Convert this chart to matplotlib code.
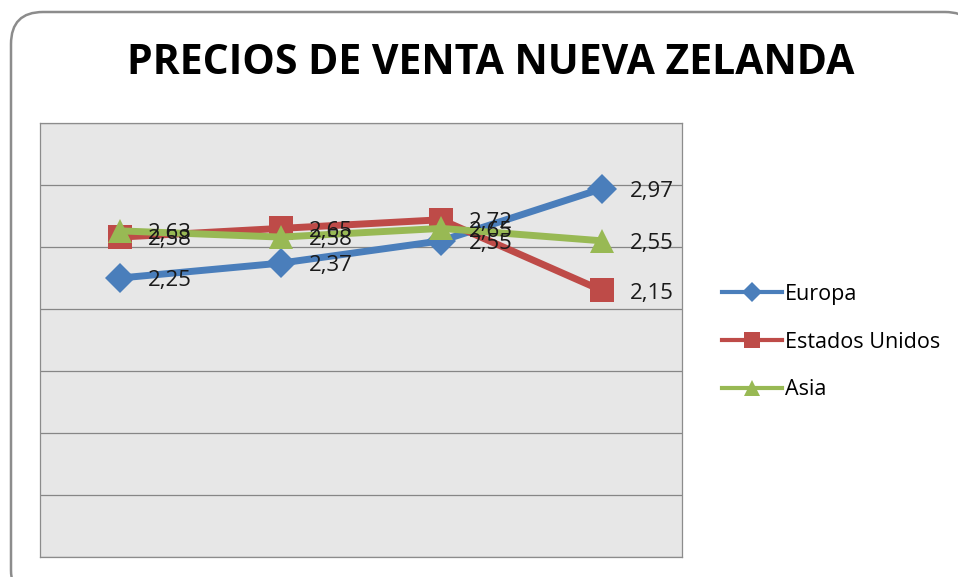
import matplotlib.pyplot as plt
from matplotlib.patches import FancyBboxPatch
from matplotlib.lines import Line2D

categories = ["1", "2", "3", "4"]
europa = [2.25, 2.37, 2.55, 2.97]
estados_unidos = [2.58, 2.65, 2.72, 2.15]
asia = [2.63, 2.58, 2.65, 2.55]
series_names = ["Europa", "Estados Unidos", "Asia"]
y_ticks = [0.0, 0.5, 1.0, 1.5, 2.0, 2.5, 3.0, 3.5]

COLORS = ["#4a7ebb", "#be4b48", "#98b954"]
MARKERS = ["D", "s", "^"]
MSIZES = [15, 17, 17]

plt.rcParams["font.family"] = ["Open Sans", "DejaVu Sans"]

W, H = 958, 577
fig = plt.figure(figsize=(W / 100, H / 100), dpi=100)

# background layer in pixel units for the rounded chart border
bg = fig.add_axes([0, 0, 1, 1], zorder=-1)
bg.set_xlim(0, W)
bg.set_ylim(H, 0)
bg.axis("off")
bg.add_patch(FancyBboxPatch(
    (11, 12), 966, 590, boxstyle="round,pad=0,rounding_size=32",
    facecolor="white", edgecolor="#8c8c8c", linewidth=1.8,
))

ax = fig.add_axes([40 / W, 20 / H, 642 / W, 434 / H])
ax.set_facecolor("#e7e7e7")
for s in ax.spines.values():
    s.set_color("#8c8c8c")
    s.set_linewidth(0.9)

x = list(range(len(categories)))
all_series = [europa, estados_unidos, asia]
handles = []
for vals, name, c, m, ms in zip(all_series, series_names, COLORS, MARKERS, MSIZES):
    ax.plot(x, vals, color=c, linewidth=5, marker=m, markersize=ms,
            markeredgewidth=0, solid_capstyle="round", zorder=3, label=name)
    handles.append(Line2D([0], [0], color=c, linewidth=3, marker=m,
                          markersize=ms * 0.66, markeredgewidth=0))
    for xi, v in zip(x, vals):
        ax.annotate(f"{v:.2f}".replace(".", ","), (xi, v), xytext=(20, -2),
                    textcoords="offset points", ha="left", va="center",
                    fontsize=16, color="#1a1a1a", zorder=4)

ax.set_xlim(-0.5, len(categories) - 0.5)
ax.set_ylim(y_ticks[0], y_ticks[-1])
ax.set_yticks(y_ticks)
ax.yaxis.grid(True, color="#868686", linewidth=0.9)
ax.set_axisbelow(True)
ax.tick_params(left=False, bottom=False, labelleft=False, labelbottom=False)

fig.text(491 / W, 1 - 64 / H, "PRECIOS DE VENTA NUEVA ZELANDA",
         ha="center", va="center", fontsize=29.5, fontweight="bold",
         color="black")

fig.legend(handles, series_names, loc="center left",
           bbox_to_anchor=(711 / W, 1 - 342 / H), frameon=False,
           fontsize=15.5, handlelength=2.8, handletextpad=0.15,
           labelspacing=1.25, borderpad=0)

fig.savefig("out.png", dpi=100)
